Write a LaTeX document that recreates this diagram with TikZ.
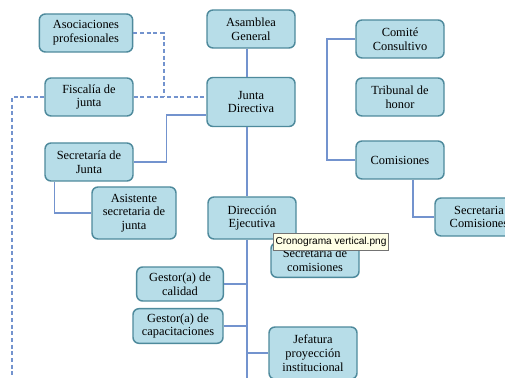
\documentclass[tikz,border=0pt]{standalone}
\usepackage{fontspec}
\setmainfont{Liberation Serif}
\newfontfamily\tipfont{Liberation Sans}
\usepackage{tikz}
\definecolor{cajafondo}{HTML}{B7DDE8}
\definecolor{cajaborde}{HTML}{4E8A9C}
\definecolor{linea}{HTML}{7393CE}
\definecolor{tipfondo}{HTML}{FFFFE6}

\begin{document}
\begin{tikzpicture}[x=0.75pt,y=-0.75pt,
  caja/.style={draw=cajaborde,fill=cajafondo,line width=1.1pt,rounded corners=4.5pt,align=center,
    minimum width=66pt,minimum height=28.5pt,inner sep=1pt,font=\fontsize{9.3}{10.3}\selectfont},
  con/.style={draw=linea,line width=0.8pt},
  punt/.style={con,dash pattern=on 3pt off 2pt},
  aviso/.style={draw=black!55,fill=tipfondo,line width=0.5pt,inner sep=1.5pt,minimum height=12.5pt,
    font=\tipfont\fontsize{7.6}{9}\selectfont}]
\useasboundingbox (0,0) rectangle (505,377);
\clip (0,0) rectangle (505,377);
\fill[white] (0,0) rectangle (505,377);
\node[caja,minimum width=70pt] (asoc) at (86,33) {Asociaciones\\profesionales};
\node[caja] (asamblea) at (251,29) {Asamblea\\General};
\node[caja,minimum height=36.75pt] (junta) at (251,102) {Junta\\Directiva};
\node[caja] (fiscalia) at (89,97) {Fiscalía de\\junta};
\node[caja] (secjunta) at (89,162) {Secretaría de\\Junta};
\node[caja,minimum width=63pt,minimum height=39pt] (asistente) at (134,213) {Asistente\\secretaria de\\junta};
\node[caja,minimum height=31.5pt] (direccion) at (252,218) {Dirección\\Ejecutiva};
\node[caja] (comite) at (400,39) {Comité\\Consultivo};
\node[caja] (tribunal) at (400,97) {Tribunal de\\honor};
\node[caja] (comisiones) at (400,160) {Comisiones};
\node[caja] (seccomisiones) at (479,217) {Secretaria\\Comisiones};
\node[caja,minimum height=26pt] (seccom) at (315,260) {Secretaria de\\comisiones};
\node[caja,minimum width=65pt,minimum height=25.5pt] (gcalidad) at (180,284) {Gestor(a) de\\calidad};
\node[caja,minimum width=67.5pt,minimum height=26pt] (gcapac) at (178,326) {Gestor(a) de\\capacitaciones};
\node[caja,minimum height=39pt] (jefatura) at (313,353) {Jefatura\\proyección\\institucional};
\node[aviso] (nota) at (331,241.5) {Cronograma vertical.png};

\coordinate (eje) at (247,380);
\coordinate (cruce) at (164,97);
\coordinate (izq) at (12,380);
\coordinate (der) at (327,100);
\draw[con] (asamblea.south -| eje) -- (junta.north -| eje);
\draw[con] (junta.south -| eje) -- (direccion.north -| eje);
\draw[con] (direccion.south -| eje) -- (eje);
\draw[con] ([yshift=-9.75pt]junta.west) -- ++(-40,0) |- (secjunta.east);
\draw[con] ([xshift=7.5pt]secjunta.south west) |- (asistente.west);
\draw[punt] (asoc.east) -| (cruce);
\draw[punt] (fiscalia.east) -- (fiscalia.east -| junta.west);
\draw[punt] (fiscalia.west) -| (izq);
\draw[con] (comite.west) -| (der) |- (comisiones.west);
\draw[con] ([xshift=9.75pt]comisiones.south) |- (seccomisiones.west);
\draw[con] (gcalidad.east) -- (gcalidad.east -| eje);
\draw[con] (gcapac.east) -- (gcapac.east -| eje);
\draw[con] (jefatura.west -| eje) -- (jefatura.west);
\end{tikzpicture}
\end{document}
